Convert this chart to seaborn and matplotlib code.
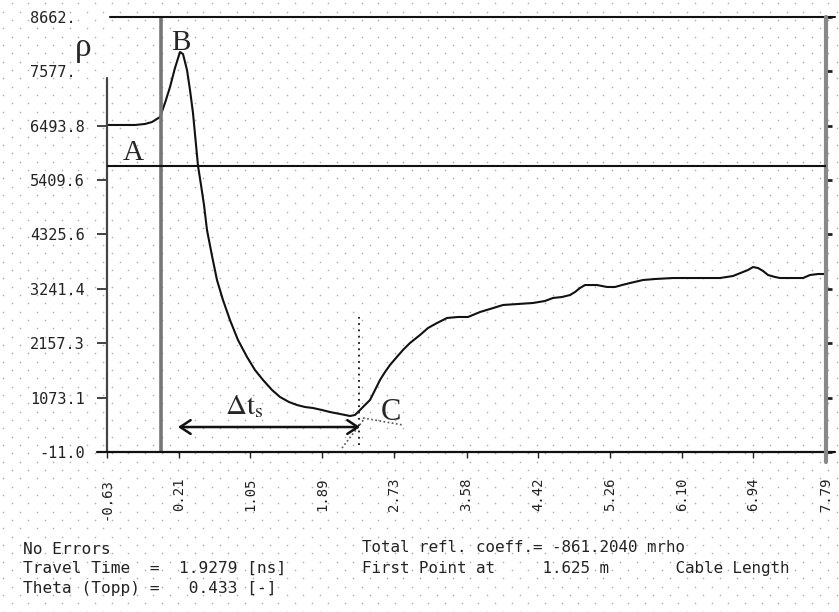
import numpy as np
import pandas as pd
import matplotlib
matplotlib.use("Agg")
import matplotlib.pyplot as plt
import seaborn as sns
from matplotlib.lines import Line2D

# ---------------- data ----------------
time_ns = [-0.630, -0.478, -0.302, -0.185, -0.103, -0.009, 0.049, 0.108, 0.166, 0.225,
           0.260, 0.307, 0.342, 0.377, 0.436, 0.471, 0.506, 0.541, 0.600, 0.658,
           0.728, 0.810, 0.904, 1.010, 1.103, 1.197, 1.302, 1.396, 1.501, 1.595,
           1.689, 1.782, 1.888, 1.982, 2.099, 2.216, 2.274, 2.333, 2.391, 2.450,
           2.509, 2.567, 2.626, 2.684, 2.754, 2.836, 2.918, 3.036, 3.129, 3.235,
           3.352, 3.481, 3.598, 3.738, 3.855, 4.008, 4.183, 4.359, 4.499, 4.593,
           4.698, 4.792, 4.851, 4.909, 4.968, 5.050, 5.108, 5.226, 5.319, 5.401,
           5.495, 5.647, 5.788, 5.998, 6.197, 6.373, 6.549, 6.701, 6.818, 6.877,
           6.935, 6.994, 7.053, 7.111, 7.193, 7.252, 7.369, 7.521, 7.603, 7.697,
           7.779]
rho = [6509, 6509, 6509, 6529, 6568, 6668, 6947, 7266, 7645, 7964,
       7924, 7605, 7207, 6748, 5691, 5312, 4914, 4415, 3897, 3418,
       3020, 2621, 2222, 1883, 1624, 1425, 1226, 1086, 986, 926,
       886, 866, 826, 786, 747, 707, 727, 826, 926, 1026,
       1226, 1425, 1584, 1724, 1863, 2023, 2162, 2322, 2461, 2561,
       2661, 2681, 2681, 2780, 2840, 2920, 2940, 2960, 3000, 3060,
       3079, 3119, 3179, 3259, 3318, 3318, 3318, 3279, 3279, 3318,
       3358, 3418, 3438, 3458, 3458, 3458, 3458, 3498, 3578, 3618,
       3677, 3657, 3598, 3518, 3478, 3458, 3458, 3458, 3518, 3538,
       3538]

y_tick_values = [-11.0, 1073.1, 2157.3, 3241.4, 4325.6, 5409.6, 6493.8, 7577.0, 8662.0]
y_tick_labels = ["-11.0", "1073.1", "2157.3", "3241.4", "4325.6", "5409.6", "6493.8", "7577. ", "8662. "]
x_tick_values = [-0.63, 0.21, 1.05, 1.89, 2.73, 3.58, 4.42, 5.26, 6.10, 6.94, 7.79]
x_tick_labels = ["-0.63", "0.21", "1.05", "1.89", "2.73", "3.58", "4.42", "5.26", "6.10", "6.94", "7.79"]

level_A = 5691.0          # horizontal reference level (point A)
start_time = 0.0          # vertical reference line
left_axis_top = 7446.0
arrow_y = 487.0
arrow_x0, arrow_x1 = 0.201, 2.333
c_time = 2.321
c_vline = (128.0, 2681.0)
tangent_rise = ([2.122, 2.391], [68.0, 667.0])
tangent_flat = ([2.368, 2.836], [667.0, 527.0])

info_left = ["No Errors",
             "Travel Time  =  1.9279 [ns]",
             "Theta (Topp) =   0.433 [-]"]
info_right = ["Total refl. coeff.= -861.2040 mrho",
              "First Point at     1.625 m       Cable Length"]

# ---------------- figure ----------------
sns.set_theme(style="white")
plt.rcParams["font.family"] = ["DejaVu Sans Mono", "DejaVu Sans"]
plt.rcParams["mathtext.fontset"] = "stix"

W, H = 839, 612
fig = plt.figure(figsize=(W / 100, H / 100), dpi=100)
fig.patch.set_facecolor("white")

# dotted background pattern
bg = fig.add_axes([0, 0, 1, 1])
bg.set_xlim(0, W)
bg.set_ylim(H, 0)
bg.axis("off")
p = 25 / 3
gi, gj = np.meshgrid(np.arange(0, 101), np.arange(0, 74))
mask = (gi + gj) % 2 == 1
bg.scatter((3.33 + gi * p)[mask], (3.33 + gj * p)[mask], s=1.4, color="#b0b0b0", linewidths=0)

ax = fig.add_axes([107 / W, 160 / H, 719 / W, 435 / H])
ax.set_zorder(2)
ax.patch.set_visible(False)

df = pd.DataFrame({"time": time_ns, "rho": rho})
sns.lineplot(data=df, x="time", y="rho", ax=ax, color="#111111", lw=1.5,
             sort=False, estimator=None)

ax.set_xlim(-0.63, 7.79)
ax.set_ylim(-11.0, 8662.0)
ax.set_xlabel("")
ax.set_ylabel("")
for s in ax.spines.values():
    s.set_visible(False)

# reference lines
ax.axhline(level_A, color="#111111", lw=1.5, zorder=3)
ax.axvline(start_time, color="#777777", lw=2.6, zorder=2)
ax.axvline(-0.63, ymin=0, ymax=(left_axis_top + 11) / 8673, color="#444444", lw=1.6, clip_on=False)
# top, bottom and right frame lines
ax.add_line(Line2D([0.004, 1.0125], [1, 1], transform=ax.transAxes, color="#111111", lw=1.5, clip_on=False))
ax.add_line(Line2D([-0.0139, 1.0125], [0, 0], transform=ax.transAxes, color="#111111", lw=1.6, clip_on=False))
ax.add_line(Line2D([1, 1], [-0.023, 1], transform=ax.transAxes, color="#888888", lw=3, clip_on=False))

# ticks
ax.set_xticks(x_tick_values)
ax.set_xticklabels(x_tick_labels, rotation=90, fontsize=10, color="#222222")
ax.set_yticks(y_tick_values)
ax.set_yticklabels(y_tick_labels, fontsize=11, color="#222222")
ax.tick_params(axis="x", bottom=True, direction="out", length=4.5, width=1.0, pad=14, color="#222222")
ax.tick_params(axis="y", left=True, right=True, labelright=False, direction="out",
               length=7, width=1.2, pad=9, color="#222222")
for i, t in enumerate(ax.yaxis.get_major_ticks()):
    t.tick2line.set_markersize(4.5)
    t.tick2line.set_markeredgewidth(2)
    if i >= 7:
        t.tick1line.set_visible(False)

# annotations
serif = "Liberation Serif"
ax.text(-0.911, 8044, "\u03c1", family=serif, fontsize=24, ha="center", va="center", clip_on=False)
ax.text(0.237, 8144, "B", family=serif, fontsize=21, ha="center", va="center")
ax.text(-0.326, 5950, "A", family=serif, fontsize=21, ha="center", va="center")
ax.text(2.696, 786, "C", family=serif, fontsize=22, ha="center", va="center")
ax.text(0.974, 906, r"$\Delta\mathrm{t}_\mathrm{s}$", fontsize=21, ha="center", va="center")
ax.annotate("", xy=(arrow_x0, arrow_y), xytext=(arrow_x1, arrow_y),
            arrowprops=dict(arrowstyle="<->,head_length=0.5,head_width=0.33",
                            lw=1.8, color="#111111", mutation_scale=15,
                            shrinkA=0, shrinkB=0))
ax.plot([c_time, c_time], list(c_vline), ls=(0, (1, 2.5)), color="#111111", lw=1.3)
ax.plot(tangent_rise[0], tangent_rise[1], ls=(0, (1, 1.5)), color="#555555", lw=1.2)
ax.plot(tangent_flat[0], tangent_flat[1], ls=(0, (1, 1.5)), color="#555555", lw=1.2)

# info text below the plot
for k, line in enumerate(info_left):
    fig.text(23 / W, 1 - [549, 568, 589][k] / H, line, fontsize=11.6,
             family="DejaVu Sans Mono", va="center", ha="left", color="#222222")
for k, line in enumerate(info_right):
    fig.text(362 / W, 1 - [548, 568][k] / H, line, fontsize=11.4,
             family="DejaVu Sans Mono", va="center", ha="left", color="#222222")

fig.savefig("out.png", dpi=100)
